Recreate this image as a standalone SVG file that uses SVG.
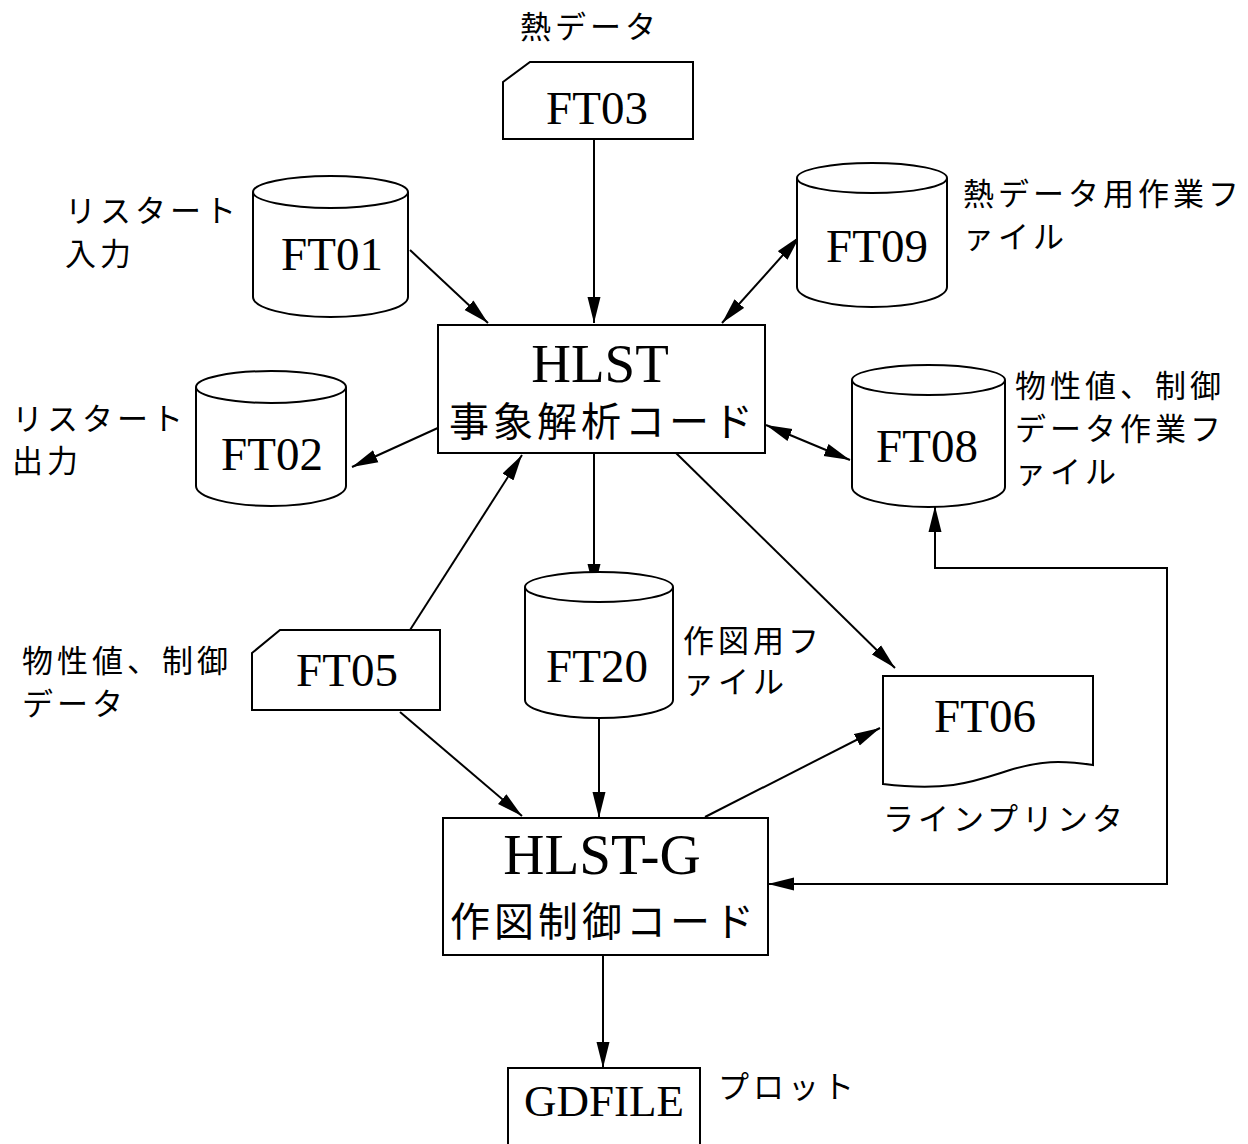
<svg xmlns="http://www.w3.org/2000/svg" width="1248" height="1144" viewBox="0 0 1248 1144">
<style>
.s{fill:#fff;stroke:#000;stroke-width:2}
.c{fill:none;stroke:#000;stroke-width:2}
.en{font-family:"Liberation Serif","Times New Roman",serif;fill:#000;text-anchor:middle}
.jp{font-family:"Noto Sans CJK JP","Noto Sans",sans-serif;fill:#000;font-size:31px;letter-spacing:4px}
.big{font-family:"Noto Sans CJK JP","Noto Sans",sans-serif;fill:#000;font-size:40px;text-anchor:middle;letter-spacing:4px}
</style>
<defs>
<marker id="ah" viewBox="0 0 20 10" refX="20" refY="5" markerUnits="userSpaceOnUse" markerWidth="26" markerHeight="14" orient="auto-start-reverse">
<path d="M0,0 L20,5 L0,10 z" fill="#000"/>
</marker>
</defs>
<rect width="1248" height="1144" fill="#fff"/>

<g id="connectors">
<line class="c" x1="594" y1="139" x2="594" y2="323" marker-end="url(#ah)"/>
<line class="c" x1="410" y1="250" x2="488" y2="323" marker-end="url(#ah)"/>
<line class="c" x1="722" y1="323" x2="800" y2="236" marker-start="url(#ah)" marker-end="url(#ah)"/>
<line class="c" x1="440" y1="427" x2="352" y2="467" marker-end="url(#ah)"/>
<line class="c" x1="766" y1="425" x2="850" y2="460" marker-start="url(#ah)" marker-end="url(#ah)"/>
<line class="c" x1="594" y1="453" x2="594" y2="590" marker-end="url(#ah)"/>
<line class="c" x1="676" y1="453" x2="895" y2="668" marker-end="url(#ah)"/>
<line class="c" x1="410" y1="630" x2="522" y2="455" marker-end="url(#ah)"/>
<line class="c" x1="400" y1="712" x2="522" y2="816" marker-end="url(#ah)"/>
<line class="c" x1="599" y1="718" x2="599" y2="818" marker-end="url(#ah)"/>
<line class="c" x1="705" y1="817" x2="880" y2="728" marker-end="url(#ah)"/>
<line class="c" x1="603" y1="955" x2="603" y2="1068" marker-end="url(#ah)"/>
<polyline class="c" points="768,884 1167,884 1167,568 935,568 935,506" marker-start="url(#ah)" marker-end="url(#ah)"/>
</g>

<g id="FT03">
<path class="s" d="M503,82 L530,62 H693 V139 H503 Z"/>
<text class="en" x="597" y="124" font-size="47">FT03</text>
<text class="jp" x="520" y="38">熱データ</text>
</g>

<g id="FT01">
<path class="s" d="M253,192 V297 A77.5,20 0 0 0 408,297 V192"/>
<ellipse class="s" cx="330.5" cy="192" rx="77.5" ry="16"/>
<text class="en" x="332" y="270" font-size="47">FT01</text>
<text class="jp" x="65" y="222">リスタート</text>
<text class="jp" x="65" y="265">入力</text>
</g>

<g id="FT02">
<path class="s" d="M196,387 V486 A75,20 0 0 0 346,486 V387"/>
<ellipse class="s" cx="271" cy="387" rx="75" ry="16"/>
<text class="en" x="272" y="470" font-size="47">FT02</text>
<text class="jp" x="12" y="430">リスタート</text>
<text class="jp" x="12" y="472">出力</text>
</g>

<g id="FT09">
<path class="s" d="M797,178 V287 A75,20 0 0 0 947,287 V178"/>
<ellipse class="s" cx="872" cy="178" rx="75" ry="15"/>
<text class="en" x="877" y="262" font-size="47">FT09</text>
<text class="jp" x="963" y="205">熱データ用作業フ</text>
<text class="jp" x="963" y="248">ァイル</text>
</g>

<g id="FT08">
<path class="s" d="M852,380 V487 A76.5,20 0 0 0 1005,487 V380"/>
<ellipse class="s" cx="928.5" cy="380" rx="76.5" ry="15"/>
<text class="en" x="927" y="462" font-size="47">FT08</text>
<text class="jp" x="1015" y="397">物性値、制御</text>
<text class="jp" x="1015" y="440">データ作業フ</text>
<text class="jp" x="1015" y="483">ァイル</text>
</g>

<g id="HLST">
<rect class="s" x="438" y="325" width="327" height="128"/>
<text class="en" x="600" y="382" font-size="55">HLST</text>
<text class="big" x="603" y="436">事象解析コード</text>
</g>

<g id="FT20">
<path class="s" d="M525,587 V700 A74,18 0 0 0 673,700 V587"/>
<ellipse class="s" cx="599" cy="587" rx="74" ry="15"/>
<text class="en" x="597" y="682" font-size="47">FT20</text>
<text class="jp" x="683" y="652">作図用フ</text>
<text class="jp" x="683" y="693">ァイル</text>
</g>

<g id="FT05">
<path class="s" d="M252,653 L280,630 H440 V710 H252 Z"/>
<text class="en" x="347" y="686" font-size="47">FT05</text>
<text class="jp" x="22" y="672">物性値、制御</text>
<text class="jp" x="22" y="715">データ</text>
</g>

<g id="FT06">
<path class="s" d="M883,676 H1093 V765 C1060,760 1040,761 1010,770 C975,781 950,792 883,784 Z"/>
<text class="en" x="985" y="732" font-size="47">FT06</text>
<text class="jp" x="883" y="830">ラインプリンタ</text>
</g>

<g id="HLST-G">
<rect class="s" x="443" y="818" width="325" height="137"/>
<text class="en" x="602" y="874" font-size="57">HLST-G</text>
<text class="big" x="604" y="936">作図制御コード</text>
</g>

<g id="GDFILE">
<path class="s" d="M508,1150 V1068 H700 V1150"/>
<text class="en" x="604" y="1116" font-size="45">GDFILE</text>
<text class="jp" x="718" y="1098">プロット</text>
</g>
</svg>
